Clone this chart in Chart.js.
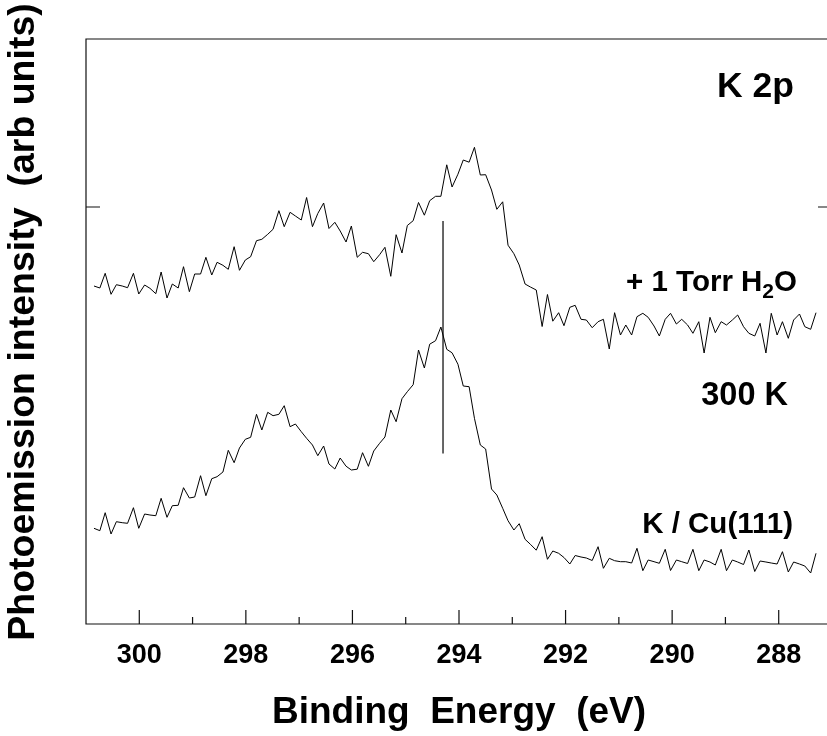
<!DOCTYPE html>
<html><head><meta charset="utf-8">
<script src="https://cdn.jsdelivr.net/npm/chart.js@4.4.1/dist/chart.umd.min.js"></script>
<style>
html,body{margin:0;padding:0;background:#fff;overflow:hidden;width:827px;height:736px}
#wrap{position:relative;width:840px;height:736px}
</style>
</head><body><div id="wrap"><canvas id="c" width="840" height="736"></canvas></div>
<script>
// Binding energies (eV) of each measured channel
const energies = [300.85,300.74,300.64,300.53,300.43,300.32,300.22,300.11,300.01,299.90,
299.80,299.69,299.59,299.48,299.38,299.27,299.17,299.06,298.96,298.85,
298.75,298.64,298.54,298.43,298.33,298.22,298.12,298.01,297.91,297.80,
297.70,297.59,297.49,297.38,297.28,297.17,297.07,296.96,296.86,296.75,
296.65,296.54,296.44,296.33,296.23,296.12,296.02,295.91,295.81,295.70,
295.60,295.49,295.39,295.28,295.18,295.07,294.97,294.86,294.76,294.65,
294.55,294.44,294.34,294.23,294.13,294.02,293.92,293.81,293.71,293.60,
293.50,293.39,293.29,293.18,293.08,292.97,292.87,292.76,292.66,292.55,
292.44,292.34,292.24,292.13,292.03,291.92,291.82,291.71,291.61,291.50,
291.39,291.29,291.18,291.08,290.97,290.87,290.76,290.66,290.55,290.45,
290.34,290.24,290.13,290.03,289.92,289.82,289.71,289.61,289.50,289.40,
289.29,289.19,289.08,288.98,288.87,288.77,288.66,288.56,288.45,288.35,
288.24,288.14,288.03,287.93,287.82,287.72,287.61,287.51,287.40,287.30];

// + 1 Torr H2O spectrum (arb units, offset)
const waterSpectrum = [338,336,350.7,329.7,339.3,338,336.3,350.7,330,339,
335.7,330.3,352,326,340,336,357.3,332.3,350,350,
366.7,349,361.7,358.7,354.7,377.3,353.7,364,367.3,383.3,
384.7,389.7,394.7,413.3,397.3,411.7,408,404,426.5,397.3,
410.5,421,395.5,401.7,393,382,398,366.7,371.7,370.3,
362.3,369.3,376.7,347.7,389.3,371,398.5,403.3,421.5,408.8,
423.3,427.7,427.7,459.2,437,449.8,464,461.8,476.7,449,
449.3,434,414.7,422.2,378.8,370.3,359,340,337,334,
297.5,329.5,302.8,311.3,298.3,316.7,318.7,304.7,304,296.3,
302.3,304.7,275,311.3,289,299,289,307.3,310.7,306.7,
298,288,304.7,310.7,300,304.7,299,290.7,302.3,271,
306.7,291.3,302.3,299,304,309,297.3,290.7,288,300.7,
271,310.7,289,302.3,285.7,304,310,297.3,294.7,311.3];

// K / Cu(111) spectrum (arb units)
const cleanSpectrum = [95.7,93.3,111.3,90,102.3,101.3,100.7,116.3,95.7,110,
109,108.3,125.7,106.7,118.3,118.7,136.3,126,127,148.3,
128.3,145.3,147.3,152,173.7,161.3,176,184.7,186.7,209.7,
194,211.7,208.3,209.7,218.3,197.3,200,192.3,185.7,179,
168.3,178,160,155,166,157.8,154,154.8,171.3,157.7,
173,180.7,187,214,202.3,225.3,232.3,239.3,274,256,
279.8,283.3,297,274.7,271.2,259.8,238,237.3,205.7,179,
175,135,129,115.7,103.3,94,100.3,84.7,79.7,73.8,
87.3,64.7,73,70.7,66.5,60,68.5,67,66,63.5,
77.3,55.7,65.7,63.3,62.3,62.3,61,75.7,53.3,64,
62.3,60.7,74.7,53.5,64,62.3,60.5,74.7,53.3,64,
62,59,74.7,53.3,64,62,59.5,74,52.5,63,
62,61,60,72.3,52,62,60,58,51,70.7];

// Peak marker line
const markerEnergy = 294.30;
const markerRange = [170.5, 403];

// Axis ticks
const xMajorTicks = [300, 298, 296, 294, 292, 290, 288];
const xMinorTicks = [299, 297, 295, 293, 291, 289];
const yTicks = [417];

const yTitle = 'Photoemission intensity  (arb units)';
const FONT = "'Liberation Sans', Arial, Helvetica, sans-serif";

const toPts = arr => arr.map((v, i) => ({x: energies[i], y: v}));

const framePlugin = {
  id: 'frame',
  afterDraw(chart) {
    const {ctx, chartArea: a, scales: {x, y}} = chart;
    ctx.save();
    ctx.strokeStyle = '#111';
    ctx.lineWidth = 1.2;
    ctx.beginPath();
    ctx.rect(a.left, a.top, a.right - a.left, a.bottom - a.top);
    ctx.stroke();
    ctx.beginPath();
    xMajorTicks.forEach(v => { const p = x.getPixelForValue(v); ctx.moveTo(p, a.bottom); ctx.lineTo(p, a.bottom - 14); });
    xMinorTicks.forEach(v => { const p = x.getPixelForValue(v); ctx.moveTo(p, a.bottom); ctx.lineTo(p, a.bottom - 7); });
    yTicks.forEach(v => { const p = y.getPixelForValue(v);
      ctx.moveTo(a.left, p); ctx.lineTo(a.left + 14, p);
      ctx.moveTo(a.right, p); ctx.lineTo(a.right - 14, p); });
    ctx.stroke();

    ctx.fillStyle = '#000';
    // y-axis title
    ctx.save();
    ctx.translate(24, 322);
    ctx.rotate(-Math.PI / 2);
    ctx.textAlign = 'center';
    ctx.textBaseline = 'middle';
    ctx.font = `bold 37.5px ${FONT}`;
    ctx.fillText(yTitle, 0, 0);
    ctx.restore();

    ctx.textBaseline = 'alphabetic';
    ctx.textAlign = 'right';
    ctx.font = `bold 35.5px ${FONT}`;
    ctx.fillText('K 2p', 794, 97);
    ctx.font = `bold 32.5px ${FONT}`;
    ctx.fillText('300 K', 788, 405);
    ctx.font = `bold 29.5px ${FONT}`;
    ctx.fillText('K / Cu(111)', 793, 533);

    // "+ 1 Torr H2O" with subscript
    ctx.textAlign = 'left';
    const main = `bold 29.5px ${FONT}`, sub = `bold 21px ${FONT}`;
    ctx.font = main; const w1 = ctx.measureText('+ 1 Torr H').width; const w3 = ctx.measureText('O').width;
    ctx.font = sub; const w2 = ctx.measureText('2').width;
    let sx = 797 - (w1 + w2 + w3);
    const by = 291;
    ctx.font = main; ctx.fillText('+ 1 Torr H', sx, by); sx += w1;
    ctx.font = sub; ctx.fillText('2', sx, by + 7); sx += w2;
    ctx.font = main; ctx.fillText('O', sx, by);
    ctx.restore();
  }
};

new Chart(document.getElementById('c'), {
  type: 'line',
  data: {
    datasets: [
      {label: '+ 1 Torr H2O', data: toPts(waterSpectrum), borderColor: '#000', borderWidth: 1, pointRadius: 0, tension: 0},
      {label: 'K / Cu(111)', data: toPts(cleanSpectrum), borderColor: '#000', borderWidth: 1, pointRadius: 0, tension: 0},
      {label: 'marker', data: [{x: markerEnergy, y: markerRange[0]}, {x: markerEnergy, y: markerRange[1]}], borderColor: '#000', borderWidth: 1.2, pointRadius: 0}
    ]
  },
  options: {
    responsive: false,
    animation: false,
    devicePixelRatio: 1,
    layout: {padding: {top: 39, right: 8, left: 0, bottom: 0}},
    plugins: {legend: {display: false}, tooltip: {enabled: false}},
    scales: {
      x: {
        type: 'linear', reverse: true, min: 287, max: 301, position: 'bottom',
        afterFit: s => { s.height = 112; },
        afterBuildTicks: s => { s.ticks = xMajorTicks.map(v => ({value: v})); },
        grid: {display: false, drawTicks: false},
        border: {display: false},
        ticks: {autoSkip: false, maxRotation: 0, padding: 15, color: '#000',
                font: {family: FONT, weight: 'bold', size: 27}},
        title: {display: true, text: 'Binding  Energy  (eV)', color: '#000',
                font: {family: FONT, weight: 'bold', size: 37}, padding: {top: 0, bottom: 1}}
      },
      y: {
        type: 'linear', min: 0, max: 585, position: 'left',
        afterFit: s => { s.width = 86; },
        grid: {display: false, drawTicks: false},
        border: {display: false},
        ticks: {display: false},
        title: {display: false}
      }
    }
  },
  plugins: [framePlugin]
});
</script></body></html>
